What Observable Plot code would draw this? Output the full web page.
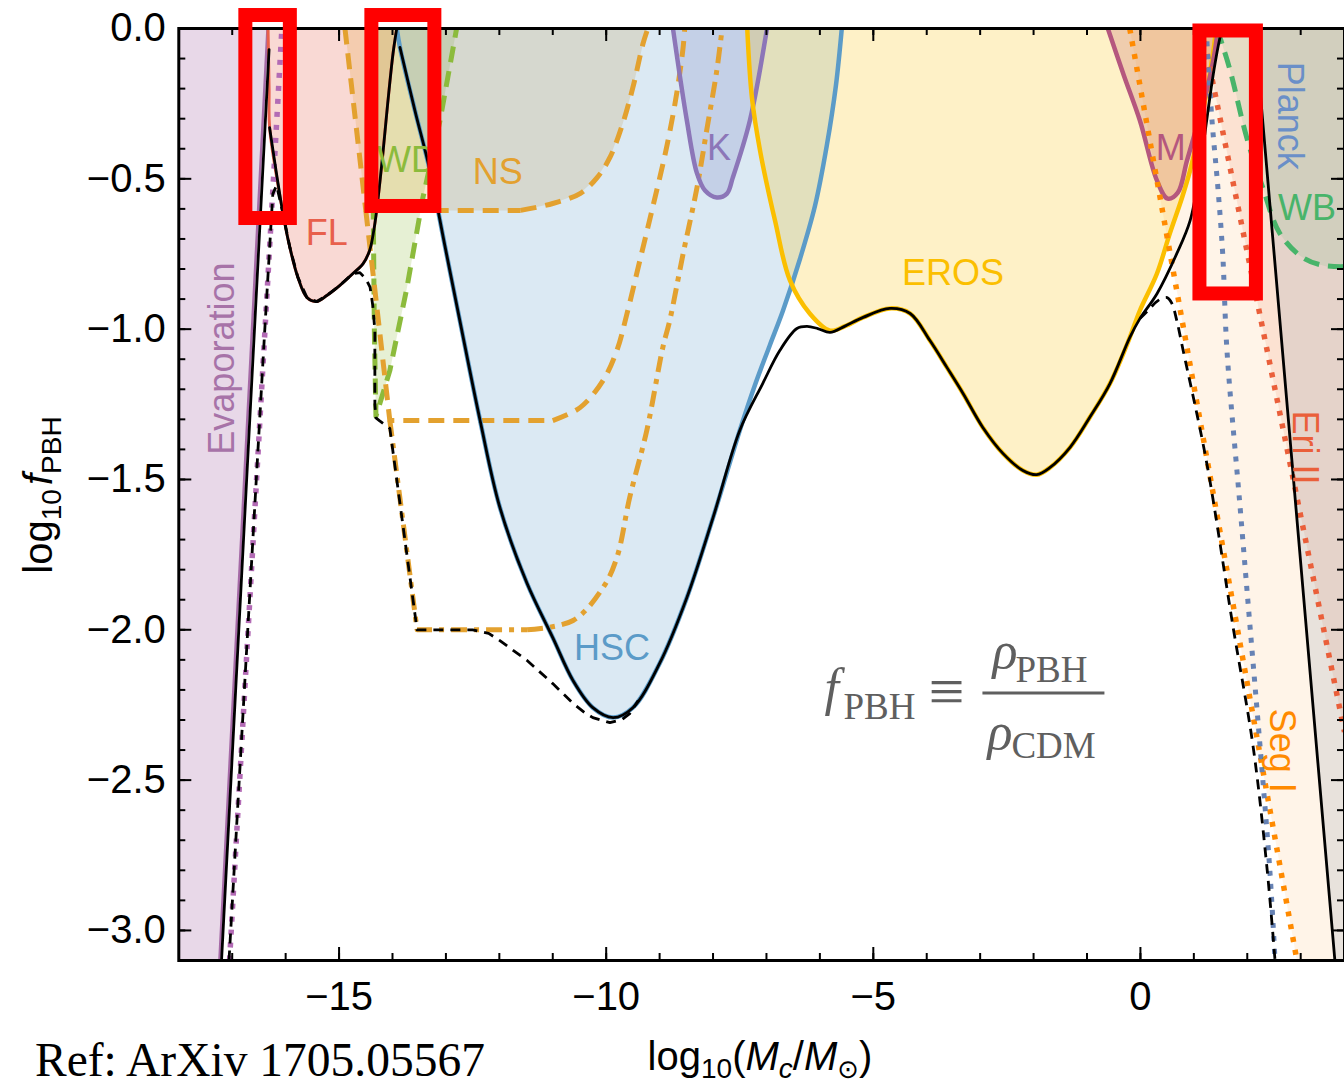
<!DOCTYPE html>
<html><head><meta charset="utf-8">
<script src="https://cdn.jsdelivr.net/npm/d3@7"></script>
<script src="https://cdn.jsdelivr.net/npm/@observablehq/plot@0.6"></script>
<style>
html,body{margin:0;padding:0;background:#fff;overflow:hidden;}
#chart{width:1344px;height:1085px;}
</style></head><body><div id="chart"></div>
<script>
// ---------- axes ----------
const xDomain = [-18, 3.82];
const yDomain = [-3.1, 0];
const xMajor = [-15, -10, -5, 0];
const xMinor = [-17, -16, -15, -14, -13, -12, -11, -10, -9, -8, -7, -6, -5, -4, -3, -2, -1, 0, 1, 2, 3];
const yMajor = [0, -0.5, -1, -1.5, -2, -2.5, -3];
const yMinor = [0, -0.1, -0.2, -0.3, -0.4, -0.5, -0.6, -0.7, -0.8, -0.9, -1, -1.1, -1.2, -1.3, -1.4, -1.5, -1.6, -1.7, -1.8, -1.9, -2, -2.1, -2.2, -2.3, -2.4, -2.5, -2.6, -2.7, -2.8, -2.9, -3, -3.1];

// ---------- constraint boundaries [log10 M, log10 f] ----------
const evapEdge = [[-17.24, -3.1], [-16.34, 0]];
const evapAlt = [[-17.05, -3.1], [-16.07, 0]];
const flEdge = [[-16.33, 0], [-16.31, -0.2], [-16.30, -0.33], [-16.05, -0.615], [-15.92, -0.729], [-15.77, -0.828], [-15.60, -0.895], [-15.42, -0.908], [-15.23, -0.888], [-14.99, -0.855], [-14.74, -0.815], [-14.55, -0.782], [-14.43, -0.739], [-14.35, -0.672], [-14.29, -0.595], [-14.18, -0.416], [-14.09, -0.25], [-13.99, -0.083], [-13.92, 0]];
const wdEdge = [[-14.36, 0], [-14.36, -0.6], [-14.34, -1.0], [-14.31, -1.29], [-14.05, -1.138], [-13.73, -0.862], [-13.43, -0.562], [-13.11, -0.306], [-12.83, -0.03], [-12.80, 0]];
const nsEdge1 = [[-14.89, 0], [-14.50, -0.605], [-11.6, -0.605], [-11.0, -0.582], [-10.49, -0.549], [-10.17, -0.496], [-9.93, -0.429], [-9.69, -0.316], [-9.50, -0.196], [-9.31, -0.05], [-9.22, 0]];
const nsEdge2 = [[-14.50, -0.605], [-14.05, -1.304], [-11.0, -1.304], [-10.49, -1.261], [-10.06, -1.171], [-9.80, -1.071], [-9.61, -0.948], [-9.37, -0.772], [-9.13, -0.595], [-8.87, -0.396], [-8.68, -0.216], [-8.56, -0.063], [-8.53, 0]];
const nsEdge3 = [[-14.05, -1.304], [-13.54, -2.0], [-11.48, -2.0], [-10.62, -1.969], [-10.06, -1.86], [-9.80, -1.76], [-9.56, -1.56], [-9.24, -1.337], [-8.94, -1.061], [-8.81, -0.971], [-8.56, -0.749], [-8.30, -0.529], [-8.12, -0.34], [-7.93, -0.14], [-7.83, 0]];
const hscEdge = [[-13.92, 0], [-13.86, -0.063], [-13.58, -0.273], [-13.30, -0.472], [-13.02, -0.722], [-12.74, -0.971], [-12.36, -1.304], [-11.99, -1.593], [-11.48, -1.846], [-11.00, -2.026], [-10.62, -2.169], [-10.25, -2.259], [-9.87, -2.292], [-9.50, -2.259], [-9.00, -2.112], [-8.49, -1.893], [-8.00, -1.627], [-7.50, -1.337], [-7.22, -1.188], [-6.94, -1.055], [-6.69, -0.938], [-6.37, -0.765], [-6.09, -0.589], [-5.87, -0.389], [-5.70, -0.19], [-5.59, 0]];
const kEdge = [[-8.75, 0], [-8.49, -0.306], [-8.30, -0.482], [-8.15, -0.539], [-7.93, -0.562], [-7.74, -0.549], [-7.63, -0.496], [-7.31, -0.306], [-6.99, 0]];
const erosEdge = [[-7.36, 0], [-7.27, -0.233], [-7.12, -0.406], [-6.84, -0.639], [-6.56, -0.838], [-6.19, -0.948], [-5.81, -1.005], [-5.53, -0.99], [-5.19, -0.961], [-4.69, -0.931], [-4.31, -0.948], [-3.94, -1.038], [-3.62, -1.128], [-3.32, -1.214], [-2.95, -1.327], [-2.57, -1.414], [-2.20, -1.470], [-1.94, -1.484], [-1.69, -1.460], [-1.32, -1.394], [-0.95, -1.294], [-0.57, -1.181], [-0.20, -1.028], [-0.01, -0.938], [0.31, -0.815], [0.55, -0.682], [0.78, -0.562], [0.93, -0.472], [1.06, -0.373], [1.21, -0.24], [1.34, -0.106], [1.42, 0]];
const mEdge = [[-0.61, 0], [-0.31, -0.156], [-0.01, -0.306], [0.31, -0.506], [0.51, -0.566], [0.70, -0.546], [0.87, -0.44], [1.06, -0.323], [1.24, -0.206], [1.38, -0.09], [1.45, 0]];
const segEdge = [[-0.20, 0], [2.93, -3.1]];
const eriEdge = [[1.15, 0], [3.82, -2.34]];
const blueDotted = [[1.23, 0], [1.34, -0.306], [1.45, -0.529], [1.54, -0.749], [1.62, -1.071], [1.86, -1.58], [2.05, -1.986], [2.24, -2.389], [2.42, -2.794], [2.52, -3.1]];
const planckEdge = [[2.14, 0], [3.64, -3.1]];
const wbEdge = [[1.44, 0], [1.49, -0.03], [1.68, -0.14], [1.99, -0.363], [2.29, -0.529], [2.61, -0.682], [3.04, -0.762], [3.42, -0.788], [3.82, -0.792]];

// ---------- combined bounds ----------
const envEvap = [[-17.20, -3.1], [-16.31, -0.07]];
const envMid = [[-13.86, -0.063], [-13.58, -0.273], [-13.30, -0.472], [-13.02, -0.722], [-12.74, -0.971], [-12.36, -1.304], [-11.99, -1.593], [-11.48, -1.846], [-11.00, -2.026], [-10.62, -2.169], [-10.25, -2.259], [-9.87, -2.292], [-9.50, -2.259], [-9.00, -2.112], [-8.49, -1.893], [-8.00, -1.627], [-7.50, -1.337], [-7.07, -1.181], [-6.75, -1.071], [-6.43, -0.998], [-6.24, -0.991], [-6.04, -0.998], [-5.81, -1.011], [-5.53, -0.99], [-5.19, -0.961], [-4.69, -0.931], [-4.31, -0.948], [-3.94, -1.038], [-3.62, -1.128], [-3.32, -1.214], [-2.95, -1.327], [-2.57, -1.414], [-2.20, -1.470], [-1.94, -1.484], [-1.69, -1.460], [-1.32, -1.394], [-0.95, -1.294], [-0.57, -1.181], [-0.20, -1.028], [-0.01, -0.965], [0.31, -0.882], [0.68, -0.749], [0.93, -0.639], [1.11, -0.472], [1.24, -0.306], [1.36, -0.156], [1.49, -0.03], [1.54, 0]];
const envPlanck = [[2.14, 0], [3.64, -3.1]];
const envDashL = [[-17.06, -3.1], [-16.39, -1.0], [-16.24, -0.55], [-16.17, -0.522], [-16.05, -0.615], [-15.92, -0.729], [-15.77, -0.828], [-15.60, -0.895], [-15.42, -0.908], [-15.23, -0.888], [-14.99, -0.855], [-14.74, -0.815], [-14.61, -0.812], [-14.50, -0.832], [-14.42, -0.86], [-14.37, -0.92], [-14.33, -1.005], [-14.33, -1.25], [-14.31, -1.295], [-14.24, -1.305], [-14.05, -1.33], [-13.54, -2.0], [-12.50, -2.0], [-12.20, -2.012], [-11.99, -2.036], [-11.48, -2.102], [-11.00, -2.179], [-10.62, -2.245], [-10.40, -2.276], [-10.25, -2.292], [-9.93, -2.309], [-9.70, -2.298], [-9.56, -2.279], [-9.40, -2.235]];
const envDashR = [[-0.01, -0.965], [0.14, -0.938], [0.33, -0.905], [0.50, -0.895], [0.59, -0.915], [0.68, -0.971], [0.80, -1.071], [1.24, -1.444], [1.73, -1.986], [2.11, -2.389], [2.37, -2.794], [2.52, -3.1]];

// ---------- labels & highlight boxes ----------
const labelData = [
  {name: "Evaporation", x: -17.19, y: -1.098},
  {name: "FL", x: -15.23, y: -0.682},
  {name: "WD", x: -13.73, y: -0.44},
  {name: "NS", x: -12.03, y: -0.479},
  {name: "K", x: -7.89, y: -0.40},
  {name: "HSC", x: -9.89, y: -2.063},
  {name: "EROS", x: -3.51, y: -0.815},
  {name: "M", x: 0.57, y: -0.40},
  {name: "Planck", x: 2.80, y: -0.29},
  {name: "WB", x: 3.12, y: -0.599},
  {name: "Eri II", x: 3.08, y: -1.394},
  {name: "Seg I", x: 2.65, y: -2.402}
];
const highlightBoxes = [
  {x1: -16.745, x2: -15.912, y1: 0.0432, y2: -0.632},
  {x1: -14.386, x2: -13.207, y1: 0.0432, y2: -0.592},
  {x1: 1.114, x2: 2.171, y1: -0.0083, y2: -0.883}
];
const formulaAnchor = {x: -2.948, y: -2.212};

// ---------- styles ----------
const SANS = "'Liberation Sans', Arial, Helvetica, 'DejaVu Sans', sans-serif";
const SERIF = "'Liberation Serif', 'Times New Roman', 'DejaVu Serif', serif";
const labelStyle = {
  "Evaporation": {color: "#a773a8", rotate: -90},
  "FL": {color: "#e8604c", rotate: 0},
  "WD": {color: "#8cbb3c", rotate: 0},
  "NS": {color: "#e3a12f", rotate: 0},
  "K": {color: "#8c76b8", rotate: 0},
  "HSC": {color: "#5b9bc8", rotate: 0},
  "EROS": {color: "#fbbf00", rotate: 0},
  "M": {color: "#b5577e", rotate: 0},
  "Planck": {color: "#6a8fc8", rotate: 90},
  "WB": {color: "#48b46a", rotate: 0},
  "Eri II": {color: "#ea5f3a", rotate: 90},
  "Seg I": {color: "#ff8a00", rotate: 90}
};

const W = 1344, H = 1085, mL = 178.3, mR = 0, mT = 28, mB = 125;
const innerW = W - mL - mR, innerH = H - mT - mB;
const PX = d => d[0], PY = d => d[1];
const R = 3.82, B = -3.1;

function fillMark(pts, color, opacity, curve = "linear") {
  return Plot.line(pts, {x: PX, y: PY, fill: color, fillOpacity: opacity, stroke: "none", curve, clip: true});
}
function lineMark(pts, color, width, dash, curve = "catmull-rom", cap = "round") {
  const o = {x: PX, y: PY, stroke: color, strokeWidth: width, strokeLinecap: cap, strokeLinejoin: "round", curve, clip: true};
  if (dash) o.strokeDasharray = dash;
  return Plot.line(pts, o);
}

const DASH = "16,9", DOT = "5,8", BLK = 2.8;
const marks = [
  // fills
  fillMark([[-18, B], ...evapEdge, [-18, 0]], "#a86aa8", 0.26),
  fillMark(flEdge, "#e8604c", 0.24, "catmull-rom"),
  fillMark(wdEdge, "#8cbb3c", 0.22),
  fillMark(nsEdge1, "#e3a12f", 0.22),
  fillMark(hscEdge, "#5b9bc8", 0.22, "catmull-rom"),
  fillMark(kEdge, "#7f82c0", 0.24, "catmull-rom"),
  fillMark(erosEdge, "#fbbf00", 0.22, "catmull-rom"),
  fillMark(mEdge, "#c87070", 0.28, "catmull-rom"),
  fillMark([...segEdge, [R, B], [R, 0]], "#ff8a00", 0.09),
  fillMark([...eriEdge, [R, 0]], "#ea5f3a", 0.12),
  fillMark([...planckEdge, [R, B], [R, 0]], "#6f86a0", 0.16),
  fillMark([...wbEdge, [R, 0]], "#48b46a", 0.12, "catmull-rom"),
  // coloured boundaries
  lineMark(evapEdge, "#a56aa6", 2.5, null, "linear"),
  lineMark(flEdge, "#e8604c", 3),
  lineMark(wdEdge, "#8cbb3c", 5, DASH, "linear", "butt"),
  lineMark(nsEdge1.slice(0, 3), "#e3a12f", 5, DASH, "linear", "butt"),
  lineMark(nsEdge1.slice(2), "#e3a12f", 5, DASH, "catmull-rom", "butt"),
  lineMark(nsEdge2.slice(0, 3), "#e3a12f", 5, DASH, "linear", "butt"),
  lineMark(nsEdge2.slice(2), "#e3a12f", 5, DASH, "catmull-rom", "butt"),
  lineMark(nsEdge3.slice(0, 3), "#e3a12f", 5, "16,7,5,7", "linear", "butt"),
  lineMark(nsEdge3.slice(2), "#e3a12f", 5, "16,7,5,7", "catmull-rom", "butt"),
  lineMark(hscEdge, "#5b9bc8", 4.5),
  lineMark(kEdge, "#8c76b8", 4.5),
  lineMark(erosEdge, "#fbbf00", 4.5),
  lineMark(mEdge, "#b5577e", 4.5),
  lineMark(wbEdge, "#48b46a", 5, DASH, "catmull-rom", "butt"),
  lineMark(segEdge, "#ff8a00", 5.5, DOT, "linear", "butt"),
  lineMark(eriEdge, "#ea5f3a", 5.5, DOT, "linear", "butt"),
  lineMark(blueDotted, "#6682b4", 5, DOT, "catmull-rom", "butt"),
  lineMark(evapAlt, "#b36bb5", 5.5, DOT, "linear", "butt"),
  // combined bounds
  lineMark(envDashL, "black", BLK, "10,7", "linear", "butt"),
  lineMark(envDashR, "black", BLK, "10,7", "catmull-rom", "butt"),
  lineMark(envEvap, "black", BLK, null, "linear"),
  lineMark(flEdge.slice(2), "black", BLK),
  lineMark(envMid, "black", BLK),
  lineMark(envPlanck, "black", BLK, null, "linear"),
  // region labels
  ...labelData.map(d => Plot.text([d], {x: "x", y: "y", text: "name", fill: labelStyle[d.name].color, rotate: labelStyle[d.name].rotate, fontSize: 36, fontFamily: SANS})),
  // frame & ticks
  Plot.frame({stroke: "black", strokeWidth: 3}),
  Plot.ruleY(yMinor, {y: d => d, insetRight: innerW - 7, stroke: "black", strokeWidth: 2}),
  Plot.ruleY(yMajor, {y: d => d, insetRight: innerW - 13, stroke: "black", strokeWidth: 2}),
  Plot.ruleY(yMinor, {y: d => d, insetLeft: innerW - 7, stroke: "black", strokeWidth: 2}),
  Plot.ruleY(yMajor, {y: d => d, insetLeft: innerW - 13, stroke: "black", strokeWidth: 2}),
  Plot.ruleX(xMinor, {x: d => d, insetTop: innerH - 7, stroke: "black", strokeWidth: 2}),
  Plot.ruleX(xMajor, {x: d => d, insetTop: innerH - 13, stroke: "black", strokeWidth: 2}),
  Plot.ruleX(xMinor, {x: d => d, insetBottom: innerH - 7, stroke: "black", strokeWidth: 2}),
  Plot.ruleX(xMajor, {x: d => d, insetBottom: innerH - 13, stroke: "black", strokeWidth: 2}),
  Plot.axisY(yMajor, {tickFormat: d3.format(".1f"), tickSize: 0, tickPadding: 13, fontSize: 40, label: null}),
  Plot.axisX(xMajor, {tickFormat: d3.format("d"), tickSize: 0, tickPadding: 21, fontSize: 40, label: null}),
  // highlight boxes
  Plot.rect(highlightBoxes, {x1: "x1", x2: "x2", y1: "y1", y2: "y2", fill: "none", stroke: "#ff0000", strokeWidth: 14, strokeLinejoin: "miter"})
];

const plot = Plot.plot({
  width: W, height: H,
  marginLeft: mL, marginRight: mR, marginTop: mT, marginBottom: mB,
  x: {domain: xDomain},
  y: {domain: yDomain},
  style: {fontFamily: SANS, fontSize: "40px", background: "white", color: "black", overflow: "visible"},
  marks
});
document.getElementById("chart").appendChild(plot);

// ---------- text annotations ----------
const svg = d3.select(plot);
// y axis label
const yl = svg.append("text").attr("transform", "translate(52,495) rotate(-90)")
  .attr("text-anchor", "middle").attr("font-family", SANS).attr("font-size", 40).attr("fill", "black");
yl.append("tspan").text("log");
yl.append("tspan").attr("font-size", 28).attr("dy", 9).text("10");
yl.append("tspan").attr("font-style", "italic").attr("dy", -9).attr("dx", 4).text("f");
yl.append("tspan").attr("font-size", 28).attr("dy", 9).text("PBH");
// x axis label
const xl = svg.append("text").attr("x", 760).attr("y", 1070)
  .attr("text-anchor", "middle").attr("font-family", SANS).attr("font-size", 40).attr("fill", "black");
xl.append("tspan").text("log");
xl.append("tspan").attr("font-size", 28).attr("dy", 8).text("10");
xl.append("tspan").attr("dy", -8).text("(");
xl.append("tspan").attr("font-style", "italic").text("M");
xl.append("tspan").attr("font-style", "italic").attr("font-size", 28).attr("dy", 8).text("c");
xl.append("tspan").attr("dy", -8).text("/");
xl.append("tspan").attr("font-style", "italic").text("M");
xl.append("tspan").attr("font-size", 26).attr("dy", 8).text("⊙");
xl.append("tspan").attr("dy", -8).text(")");
// reference
svg.append("text").attr("x", 35).attr("y", 1076).attr("text-anchor", "start").attr("font-family", SERIF).attr("font-size", 47.5).attr("fill", "black").text("Ref: ArXiv 1705.05567");
// formula
const sx = plot.scale("x"), sy = plot.scale("y");
const fx = sx.apply(formulaAnchor.x), fy = sy.apply(formulaAnchor.y);
const g = svg.append("g").attr("fill", "#5f5f5f").attr("font-family", SERIF).attr("text-anchor", "start");
g.append("text").attr("x", fx - 158).attr("y", fy + 12).attr("font-size", 52).attr("font-style", "italic").text("f");
g.append("text").attr("x", fx - 139).attr("y", fy + 26).attr("font-size", 37).text("PBH");
g.append("text").attr("x", fx - 54).attr("y", fy + 20).attr("font-size", 64).text("≡");
g.append("line").attr("x1", fx).attr("x2", fx + 122).attr("y1", fy).attr("y2", fy).attr("stroke", "#5f5f5f").attr("stroke-width", 3);
g.append("text").attr("x", fx + 10).attr("y", fy - 25).attr("font-size", 52).attr("font-style", "italic").text("ρ");
g.append("text").attr("x", fx + 33).attr("y", fy - 11).attr("font-size", 37).text("PBH");
g.append("text").attr("x", fx + 5).attr("y", fy + 56).attr("font-size", 52).attr("font-style", "italic").text("ρ");
g.append("text").attr("x", fx + 29).attr("y", fy + 65).attr("font-size", 37).text("CDM");
</script></body></html>
